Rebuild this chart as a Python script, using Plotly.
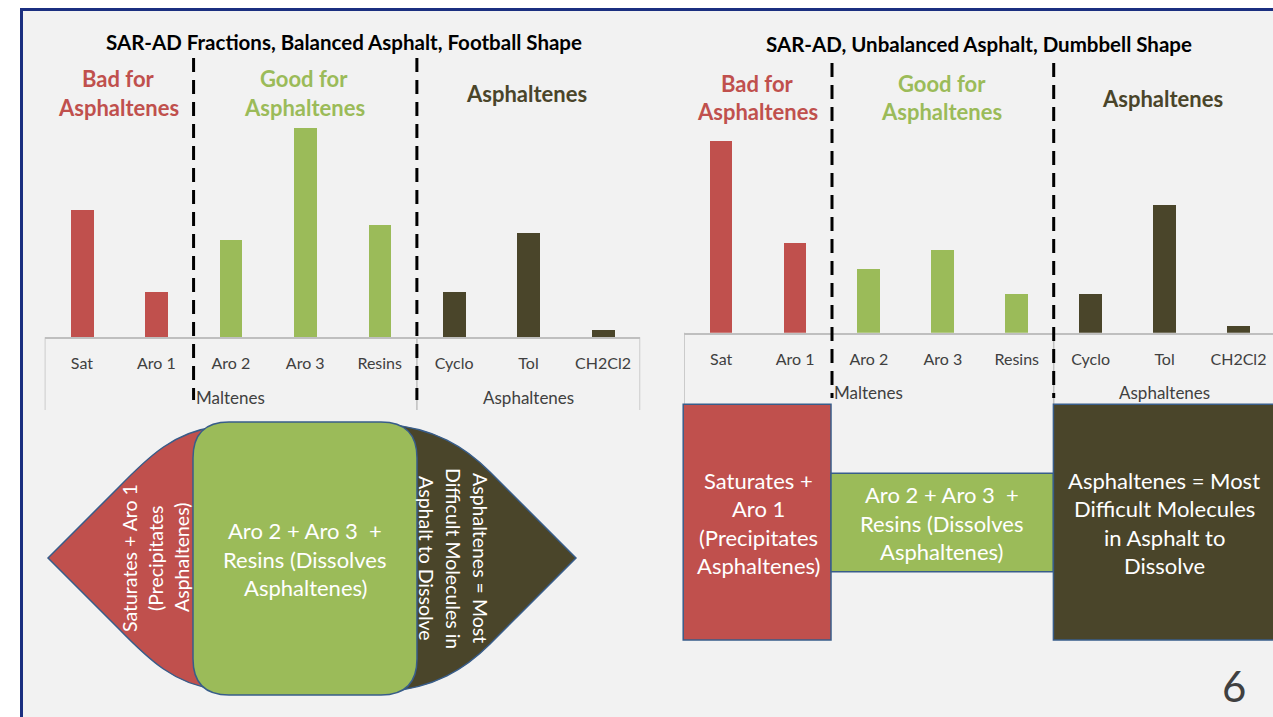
import plotly.graph_objects as go

W, H = 1273, 717

# ---------------- data ----------------
categories = ["Sat", "Aro 1", "Aro 2", "Aro 3", "Resins", "Cyclo", "Tol", "CH2Cl2"]
group_names = ["Maltenes", "Asphaltenes"]
group_centers = [2, 6]            # centre of categories 0-4 and 5-7
balanced_values = [17, 6, 13, 28, 15, 6, 14, 1]      # wt %, football shape
unbalanced_values = [30, 14, 10, 13, 6, 6, 20, 1]    # wt %, dumbbell shape
left_title = "SAR-AD Fractions, Balanced Asphalt, Football Shape"
right_title = "SAR-AD, Unbalanced Asphalt, Dumbbell Shape"

# ---------------- style ----------------
RED, GREEN, DARK = "#C0504D", "#9BBB59", "#4A452A"
bar_colors = [RED, RED, GREEN, GREEN, GREEN, DARK, DARK, DARK]
FONT = "Lato"
OUTLINE = "#385D8A"


def px(x):
    return x / W


def py(y):
    return 1 - y / H


xs = list(range(len(categories)))

fig = go.Figure()
fig.add_trace(go.Bar(x=xs, y=balanced_values, marker=dict(color=bar_colors, line=dict(width=0)),
                     width=0.305, xaxis="x", yaxis="y", showlegend=False, hoverinfo="skip"))
fig.add_trace(go.Bar(x=xs, y=unbalanced_values, marker=dict(color=bar_colors, line=dict(width=0)),
                     width=0.305, xaxis="x2", yaxis="y2", showlegend=False, hoverinfo="skip"))

# pixel scale of the two charts
L_BASE, L_SCALE = 337.3, 7.48
R_BASE, R_SCALE = 332.7, 6.395
TOP = 100
R_LEFT, R_STEP = 684.2, 73.9

xcommon = dict(showgrid=False, zeroline=False, showline=True, linecolor="#BFBFBF", linewidth=1.5,
               tickvals=xs, ticktext=categories, ticks="outside", ticklen=11,
               tickcolor="rgba(0,0,0,0)", tickfont=dict(family=FONT, size=16, color="#404040"),
               fixedrange=True)
ycommon = dict(visible=False, fixedrange=True)

annotations = []
shapes = []

# background panel
shapes.append(dict(type="rect", xref="paper", yref="paper", x0=px(21.5), x1=1.05, y0=-0.05, y1=py(9.5),
                   fillcolor="#F2F2F2", line=dict(color="#1B2F80", width=3), layer="below"))


def add_lines(lines, cx, cy, spacing, size, color, bold=False, angle=0):
    n = len(lines)
    for i, t in enumerate(lines):
        off = (i - (n - 1) / 2) * spacing
        if angle == 0:
            x, y = cx, cy + off
        elif angle == -90:
            x, y = cx + off, cy
        else:
            x, y = cx - off, cy
        annotations.append(dict(
            text=("<b>%s</b>" % t) if bold else t, x=px(x), y=py(y), xref="paper", yref="paper",
            xanchor="center", yanchor="middle", showarrow=False, textangle=angle,
            font=dict(family=FONT, size=size, color=color)))


def path_from(points_cmds):
    out = []
    for cmd, pts in points_cmds:
        s = cmd
        if pts:
            s += " " + " ".join("%.5f,%.5f" % (px(a), py(b)) for a, b in pts)
        out.append(s)
    return " ".join(out)


# ---------------- chart axes ----------------
layout_axes = dict(
    xaxis=dict(domain=[px(44.7), px(640.2)], range=[-0.5, 7.5], anchor="y", **xcommon),
    yaxis=dict(domain=[py(L_BASE), py(TOP)], range=[0, (L_BASE - TOP) / L_SCALE], anchor="x", **ycommon),
    xaxis2=dict(domain=[px(R_LEFT), 1], range=[-0.5, -0.5 + (W - R_LEFT) / R_STEP], anchor="y2", **xcommon),
    yaxis2=dict(domain=[py(R_BASE), py(TOP)], range=[0, (R_BASE - TOP) / R_SCALE], anchor="x2", **ycommon),
)

# group labels
for g, c in zip(group_names, group_centers):
    annotations.append(dict(text=g, x=c, xref="x", y=py(397.3), yref="paper", showarrow=False,
                            xanchor="center", yanchor="middle",
                            font=dict(family=FONT, size=17, color="#404040")))
    annotations.append(dict(text=g, x=c, xref="x2", y=py(392.3), yref="paper", showarrow=False,
                            xanchor="center", yanchor="middle",
                            font=dict(family=FONT, size=17, color="#404040")))

# gray category dividers
for xv in [-0.5, 4.5, 7.5]:
    shapes.append(dict(type="line", xref="x", yref="paper", x0=xv, x1=xv, y0=py(L_BASE), y1=py(410),
                       line=dict(color="#BFBFBF", width=1.5), layer="above"))
for xv in [-0.5, 4.5]:
    shapes.append(dict(type="line", xref="x2", yref="paper", x0=xv, x1=xv, y0=py(R_BASE), y1=py(404),
                       line=dict(color="#BFBFBF", width=1.5), layer="above"))

# dashed separators
for xv in [1.5, 4.5]:
    shapes.append(dict(type="line", xref="x", yref="paper", x0=xv, x1=xv, y0=py(58), y1=py(400),
                       line=dict(color="black", width=3, dash="14px,8px"), layer="above"))
    shapes.append(dict(type="line", xref="x2", yref="paper", x0=xv, x1=xv, y0=py(63), y1=py(398),
                       line=dict(color="black", width=3, dash="14px,8px"), layer="above"))

# titles
add_lines([left_title], 344, 42, 0, 20.5, "black", bold=True)
add_lines([right_title], 979, 43.5, 0, 20.5, "black", bold=True)

# section headers
add_lines(["Bad for", "Asphaltenes"], 118, 93, 28.5, 22, RED, bold=True)
add_lines(["Good for", "Asphaltenes"], 304, 93, 28.5, 22, GREEN, bold=True)
add_lines(["Asphaltenes"], 526, 93.3, 0, 22, DARK, bold=True)
add_lines(["Bad for", "Asphaltenes"], 757, 97.5, 28.5, 22, RED, bold=True)
add_lines(["Good for", "Asphaltenes"], 942, 97.5, 28.5, 22, GREEN, bold=True)
add_lines(["Asphaltenes"], 1162, 98.3, 0, 22, DARK, bold=True)

# ---------------- football (balanced) ----------------
red_leaf = path_from([
    ("M", [(48, 558)]), ("L", [(118, 488)]),
    ("C", [(150, 455), (175, 432), (215, 427)]),
    ("L", [(215, 689)]),
    ("C", [(175, 684), (150, 661), (118, 628)]),
    ("Z", []),
])
dark_leaf = path_from([
    ("M", [(576, 558)]), ("L", [(490, 472)]),
    ("C", [(465, 447), (435, 428), (385, 424)]),
    ("L", [(385, 692)]),
    ("C", [(435, 688), (465, 669), (490, 644)]),
    ("Z", []),
])
gx0, gx1, gy0, gy1, r = 193, 417, 422, 695, 36
green_box = path_from([
    ("M", [(gx0 + r, gy0)]), ("L", [(gx1 - r, gy0)]), ("Q", [(gx1, gy0), (gx1, gy0 + r)]),
    ("L", [(gx1, gy1 - r)]), ("Q", [(gx1, gy1), (gx1 - r, gy1)]),
    ("L", [(gx0 + r, gy1)]), ("Q", [(gx0, gy1), (gx0, gy1 - r)]),
    ("L", [(gx0, gy0 + r)]), ("Q", [(gx0, gy0), (gx0 + r, gy0)]), ("Z", []),
])
for p, c in [(red_leaf, RED), (dark_leaf, DARK), (green_box, GREEN)]:
    shapes.append(dict(type="path", xref="paper", yref="paper", path=p, fillcolor=c,
                       line=dict(color=OUTLINE, width=1.5), layer="above"))

add_lines(["Saturates + Aro 1", "(Precipitates", "Asphaltenes)"], 155, 558, 26, 19.5, "white", angle=-90)
add_lines(["Aro 2 + Aro 3  +", "Resins (Dissolves", "Asphaltenes)"], 305, 559, 28.7, 22, "white")
add_lines(["Asphaltenes = Most", "Difficult Molecules in", "Asphalt to Dissolve"], 454, 558, 27, 19.5,
          "white", angle=90)

# ---------------- dumbbell (unbalanced) ----------------
for (x0, x1, y0, y1, c) in [(683.2, 831, 404.3, 640, RED), (831, 1053.4, 473.3, 571.7, GREEN),
                            (1053.4, 1290, 404.3, 640, DARK)]:
    shapes.append(dict(type="rect", xref="paper", yref="paper", x0=px(x0), x1=px(x1), y0=py(y1), y1=py(y0),
                       fillcolor=c, line=dict(color=OUTLINE, width=1.5), layer="above"))

add_lines(["Saturates +", "Aro 1", "(Precipitates", "Asphaltenes)"], 758, 523, 28.5, 22, "white")
add_lines(["Aro 2 + Aro 3  +", "Resins (Dissolves", "Asphaltenes)"], 942, 523, 28.5, 22, "white")
add_lines(["Asphaltenes = Most", "Difficult Molecules", "in Asphalt to", "Dissolve"], 1164, 523, 28.5, 22,
          "white")

# page number
add_lines(["6"], 1234, 686, 0, 42, "#404040")

fig.update_layout(
    width=W, height=H, margin=dict(l=0, r=0, t=0, b=0, pad=0),
    paper_bgcolor="white", plot_bgcolor="rgba(0,0,0,0)",
    showlegend=False, bargap=0, shapes=shapes, annotations=annotations,
    font=dict(family=FONT), **layout_axes,
)

fig.write_html("out.html", config={"displayModeBar": False})
